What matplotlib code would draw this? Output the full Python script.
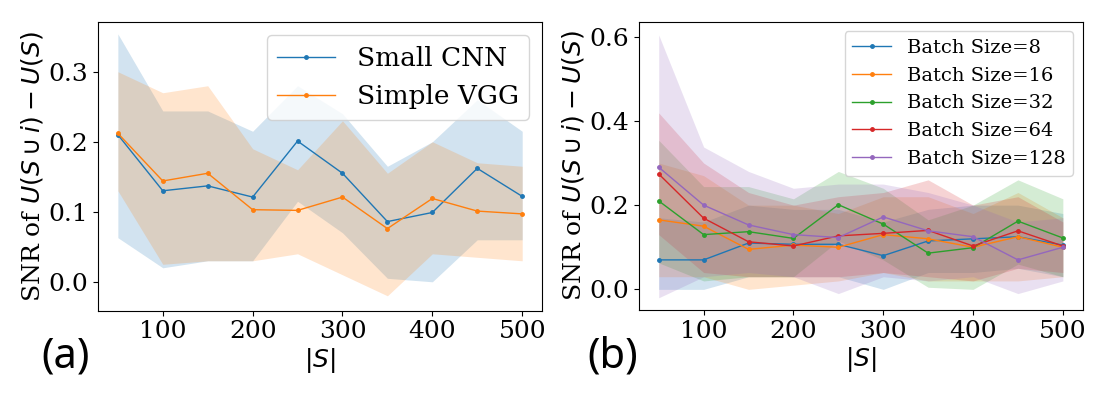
import numpy as np
import matplotlib
matplotlib.use("Agg")
import matplotlib.pyplot as plt

plt.rcParams["font.family"] = "serif"
plt.rcParams["font.serif"] = ["DejaVu Serif"]
plt.rcParams["mathtext.fontset"] = "dejavusans"

# subset sizes
sizes = [50, 100, 150, 200, 250, 300, 350, 400, 450, 500]

# (a) model comparison: mean, upper and lower band edges
cnn_mean = [0.21, 0.13, 0.137, 0.121, 0.201, 0.155, 0.086, 0.099, 0.162, 0.122]
cnn_hi = [0.354, 0.244, 0.244, 0.215, 0.28, 0.24, 0.165, 0.2, 0.26, 0.215]
cnn_lo = [0.063, 0.02, 0.03, 0.03, 0.115, 0.07, 0.005, 0.0, 0.06, 0.06]

vgg_mean = [0.212, 0.144, 0.155, 0.103, 0.102, 0.121, 0.076, 0.119, 0.101, 0.097]
vgg_hi = [0.30, 0.27, 0.28, 0.19, 0.16, 0.23, 0.155, 0.2, 0.17, 0.165]
vgg_lo = [0.13, 0.025, 0.03, 0.03, 0.04, 0.01, -0.02, 0.04, 0.035, 0.03]

# (b) batch size comparison
batch_labels = ["Batch Size=8", "Batch Size=16", "Batch Size=32",
                "Batch Size=64", "Batch Size=128"]
bs8_mean = [0.07, 0.07, 0.11, 0.107, 0.107, 0.08, 0.115, 0.12, 0.125, 0.105]
bs8_hi = [0.17, 0.16, 0.2, 0.19, 0.19, 0.16, 0.19, 0.2, 0.2, 0.18]
bs8_lo = [0.0, 0.0, 0.03, 0.03, 0.03, 0.0, 0.04, 0.04, 0.05, 0.03]

bs16_mean = [0.165, 0.15, 0.095, 0.105, 0.1, 0.13, 0.12, 0.1, 0.125, 0.1]
bs16_hi = [0.3, 0.27, 0.2, 0.2, 0.18, 0.22, 0.22, 0.18, 0.23, 0.17]
bs16_lo = [0.03, 0.03, 0.0, 0.01, 0.02, 0.04, 0.02, 0.02, 0.02, 0.03]

bs32_mean = [0.21, 0.13, 0.137, 0.121, 0.201, 0.155, 0.086, 0.099, 0.162, 0.122]
bs32_hi = [0.354, 0.244, 0.244, 0.215, 0.28, 0.24, 0.165, 0.2, 0.26, 0.215]
bs32_lo = [0.063, 0.02, 0.03, 0.03, 0.115, 0.07, 0.005, 0.0, 0.06, 0.03]

bs64_mean = [0.274, 0.169, 0.113, 0.103, 0.127, 0.133, 0.14, 0.103, 0.139, 0.103]
bs64_hi = [0.419, 0.3, 0.23, 0.2, 0.22, 0.23, 0.26, 0.2, 0.22, 0.16]
bs64_lo = [0.13, 0.04, 0.03, 0.03, 0.03, 0.04, 0.03, 0.02, 0.05, 0.04]

bs128_mean = [0.29, 0.2, 0.153, 0.13, 0.123, 0.172, 0.139, 0.125, 0.07, 0.1]
bs128_hi = [0.604, 0.338, 0.28, 0.24, 0.25, 0.25, 0.23, 0.2, 0.16, 0.17]
bs128_lo = [-0.02, 0.03, 0.04, 0.03, -0.01, 0.03, 0.02, 0.03, -0.01, 0.02]

fig = plt.figure(figsize=(10.96, 3.94), dpi=100)
ax1 = fig.add_axes([0.0891, 0.2119, 0.4058, 0.7322])
ax2 = fig.add_axes([0.5826, 0.2132, 0.4056, 0.7322])

ylabel = r"SNR of $U(S\cup i) - U(S)$"

# panel (a)
for mean, hi, lo, label, c in [(cnn_mean, cnn_hi, cnn_lo, "Small CNN", "C0"),
                               (vgg_mean, vgg_hi, vgg_lo, "Simple VGG", "C1")]:
    ax1.plot(sizes, mean, marker=".", markersize=5, linewidth=1, color=c, label=label)
    ax1.fill_between(sizes, lo, hi, color=c, alpha=0.2, linewidth=0)
ax1.set_xlim(27.5, 522.5)
ax1.set_ylim(-0.041, 0.371)
ax1.set_yticks([0.0, 0.1, 0.2, 0.3])
ax1.set_xticks([100, 200, 300, 400, 500])
ax1.tick_params(labelsize=18)
ax1.set_ylabel(ylabel, fontsize=18, labelpad=2)
ax1.set_xlabel(r"$|S|$", fontsize=18, labelpad=2)
ax1.legend(fontsize=19, loc="upper right", handlelength=2.2)

# panel (b)
batch_means = [bs8_mean, bs16_mean, bs32_mean, bs64_mean, bs128_mean]
batch_his = [bs8_hi, bs16_hi, bs32_hi, bs64_hi, bs128_hi]
batch_los = [bs8_lo, bs16_lo, bs32_lo, bs64_lo, bs128_lo]
for i in range(5):
    c = "C%d" % i
    ax2.plot(sizes, batch_means[i], marker=".", markersize=5, linewidth=1,
             color=c, label=batch_labels[i])
    ax2.fill_between(sizes, batch_los[i], batch_his[i], color=c, alpha=0.2, linewidth=0)
ax2.set_xlim(27.5, 522.5)
ax2.set_ylim(-0.049, 0.636)
ax2.set_yticks([0.0, 0.2, 0.4, 0.6])
ax2.set_xticks([100, 200, 300, 400, 500])
ax2.tick_params(labelsize=18)
ax2.set_ylabel(ylabel, fontsize=18, labelpad=2)
ax2.set_xlabel(r"$|S|$", fontsize=18, labelpad=2)
ax2.legend(fontsize=14, loc="upper right")

# panel tags
fig.text(66 / 1096, 1 - 356 / 394, "(a)", fontsize=30, family="Noto Sans",
         ha="center", va="center")
fig.text(613 / 1096, 1 - 356 / 394, "(b)", fontsize=30, family="Noto Sans",
         ha="center", va="center")

fig.savefig("out.png", dpi=100)
